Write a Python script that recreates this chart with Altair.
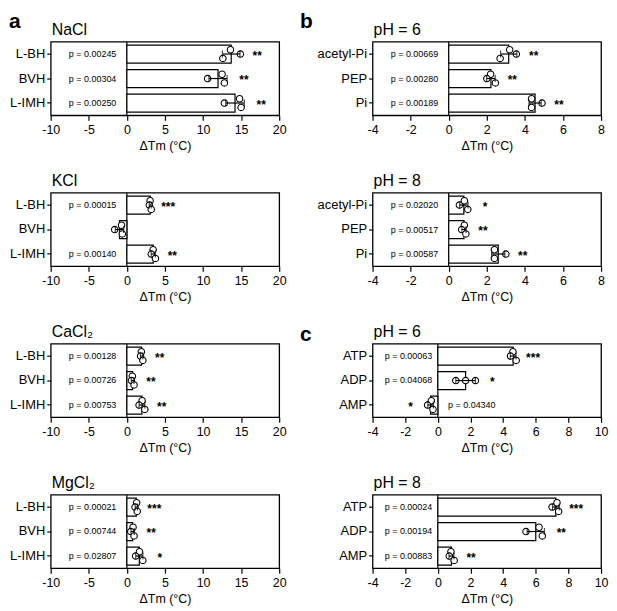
import altair as alt
import pandas as pd
import numpy as np

FONT = "Liberation Sans"

salt_cats = ["L-BH", "BVH", "L-IMH"]
phos_cats = ["acetyl-Pi", "PEP", "Pi"]
nuc_cats = ["ATP", "ADP", "AMP"]

# replicate ΔTm values (°C) per category, in drawing order top / middle / bottom
nacl_vals = [[13.6, 14.9, 12.6], [12.5, 10.6, 12.8], [14.8, 12.8, 15.0]]
kcl_vals = [[3.05, 2.95, 3.2], [-0.7, -1.6, -0.6], [3.45, 3.2, 3.75]]
cacl2_vals = [[1.9, 1.8, 2.1], [0.72, 0.6, 0.94], [2.0, 1.6, 2.35]]
mgcl2_vals = [[1.28, 1.07, 1.36], [0.81, 0.51, 0.94], [1.66, 1.15, 2.09]]
ph6_phos_vals = [[3.2, 3.55, 2.7], [2.2, 2.0, 2.45], [4.35, 4.9, 4.35]]
ph8_phos_vals = [[0.82, 0.56, 1.0], [0.82, 0.68, 0.9], [2.4, 3.0, 2.4]]
ph6_nuc_vals = [[4.6, 4.45, 4.8], [1.1, 1.7, 2.3], [-0.4, -0.63, -0.3]]
ph8_nuc_vals = [[7.3, 7.0, 7.4], [6.2, 5.4, 6.4], [0.8, 0.7, 1.0]]

# jitter lane of each replicate (0 = top, 1 = middle, 2 = bottom)
default_lanes = [[0, 1, 2], [0, 1, 2], [0, 1, 2]]
ph6_nuc_lanes = [[0, 1, 2], [1, 1, 1], [0, 1, 2]]

nacl_p = ["p = 0.00245", "p = 0.00304", "p = 0.00250"]
kcl_p = ["p = 0.00015", "", "p = 0.00140"]
cacl2_p = ["p = 0.00128", "p = 0.00726", "p = 0.00753"]
mgcl2_p = ["p = 0.00021", "p = 0.00744", "p = 0.02807"]
ph6_phos_p = ["p = 0.00669", "p = 0.00280", "p = 0.00189"]
ph8_phos_p = ["p = 0.02020", "p = 0.00517", "p = 0.00587"]
ph6_nuc_p = ["p = 0.00063", "p = 0.04068", "p = 0.04340"]
ph8_nuc_p = ["p = 0.00024", "p = 0.00194", "p = 0.00883"]

nacl_s = ["**", "**", "**"]
kcl_s = ["***", "", "**"]
cacl2_s = ["**", "**", "**"]
mgcl2_s = ["***", "**", "*"]
ph6_phos_s = ["**", "**", "**"]
ph8_phos_s = ["*", "**", "**"]
ph6_nuc_s = ["***", "*", "*"]
ph8_nuc_s = ["***", "**", "**"]

salt_domain = [-10, 20, 5]
phos_domain = [-4, 8, 2]
nuc_domain = [-4, 10, 2]

W, H = 230, 74


def panel(title, cats, vals, pvals, stars, dom, lanes=default_lanes, letter=None, letter_pos=(0, 0)):
    rows = []
    for c, vs, ln in zip(cats, vals, lanes):
        for v, l in zip(vs, ln):
            rows.append({"cat": c, "lane": l, "value": v})
    pts = pd.DataFrame(rows)

    ann = []
    for c, vs, p, s in zip(cats, vals, pvals, stars):
        m = float(np.mean(vs))
        sd = float(np.std(vs, ddof=1))
        neg = m < 0
        if neg:
            sx = min(min(vs), m - sd)
            px = -dom[0] * 0.52
        else:
            sx = max(max(vs), m + sd)
            px = dom[0] * 0.45
        ann.append({"cat": c, "p": p, "star": s, "sx": sx, "px": px, "neg": neg})
    ann = pd.DataFrame(ann)

    xscale = alt.Scale(domain=[dom[0], dom[1]], nice=False, zero=False)
    xaxis = alt.Axis(
        values=list(range(dom[0], dom[1] + 1, dom[2])),
        labelExpr="'' + datum.value",
        grid=False, domain=False, tickSize=5, tickWidth=1.2, tickColor="black",
        labelFont=FONT, labelFontSize=12.5, labelColor="black", labelPadding=3,
        labelFlush=False,
        title="ΔTm (°C)", titleFont=FONT, titleFontSize=12.5, titleFontWeight="normal",
        titleColor="black", titlePadding=4,
    )
    yscale = alt.Scale(domain=cats, paddingInner=0.28, paddingOuter=0.14)
    yaxis = alt.Axis(
        title=None, grid=False, domain=False, tickSize=4, tickWidth=1.2, tickColor="black",
        labelFont=FONT, labelFontSize=13, labelColor="black", labelPadding=2,
    )

    def X(f):
        return alt.X(f, scale=xscale, axis=xaxis)

    Y = alt.Y("cat:N", scale=yscale, axis=yaxis)

    base = alt.Chart(pts)
    zero = alt.Chart(pd.DataFrame({"z": [0]})).mark_rule(color="black", strokeWidth=1.2).encode(x=X("z:Q"))
    bars = base.mark_bar(fill="white", stroke="black", strokeWidth=1.2).encode(x=X("mean(value):Q"), y=Y)
    points = base.mark_circle(fill="white", stroke="black", strokeWidth=1.1, size=42, opacity=1).encode(
        x=X("value:Q"), y=Y,
        yOffset=alt.YOffset("lane:Q", scale=alt.Scale(domain=[0, 2], range=[4.6, 13.3])),
    )
    err = base.mark_errorbar(extent="stdev", ticks=True, size=7, thickness=1.2, color="black").encode(
        x=X("value:Q"), y=Y
    )
    ptxt = alt.Chart(ann).mark_text(font=FONT, fontSize=9, color="black", baseline="middle").encode(
        x=X("px:Q"), y=Y, text="p:N"
    )
    spos = alt.Chart(ann).transform_filter("!datum.neg").mark_text(
        font=FONT, fontSize=12, fontWeight="bold", color="black", baseline="middle", dx=17, dy=2
    ).encode(x=X("sx:Q"), y=Y, text="star:N")
    sneg = alt.Chart(ann).transform_filter("datum.neg").mark_text(
        font=FONT, fontSize=12, fontWeight="bold", color="black", baseline="middle", dx=-17, dy=2
    ).encode(x=X("sx:Q"), y=Y, text="star:N")

    ttl = alt.Chart(pd.DataFrame({"t": [title]})).mark_text(
        font=FONT, fontSize=16, color="black", align="left", baseline="alphabetic"
    ).encode(text="t:N", x=alt.value(1), y=alt.value(-7))

    layers = [zero, bars, points, err, ptxt, spos, sneg, ttl]
    if letter:
        lt = alt.Chart(pd.DataFrame({"t": [letter]})).mark_text(
            font=FONT, fontSize=21, fontWeight="bold", color="black", align="left", baseline="alphabetic"
        ).encode(text="t:N", x=alt.value(letter_pos[0]), y=alt.value(letter_pos[1]))
        layers.append(lt)

    return alt.layer(*layers).properties(width=W, height=H)


panels = [
    panel("NaCl", salt_cats, nacl_vals, nacl_p, nacl_s, salt_domain, letter="a", letter_pos=(-42, -14)),
    panel("pH = 6", phos_cats, ph6_phos_vals, ph6_phos_p, ph6_phos_s, phos_domain, letter="b", letter_pos=(-73, -14)),
    panel("KCl", salt_cats, kcl_vals, kcl_p, kcl_s, salt_domain),
    panel("pH = 8", phos_cats, ph8_phos_vals, ph8_phos_p, ph8_phos_s, phos_domain),
    panel("CaCl₂", salt_cats, cacl2_vals, cacl2_p, cacl2_s, salt_domain),
    panel("pH = 6", nuc_cats, ph6_nuc_vals, ph6_nuc_p, ph6_nuc_s, nuc_domain, lanes=ph6_nuc_lanes,
          letter="c", letter_pos=(-73, -3)),
    panel("MgCl₂", salt_cats, mgcl2_vals, mgcl2_p, mgcl2_s, salt_domain),
    panel("pH = 8", nuc_cats, ph8_nuc_vals, ph8_nuc_p, ph8_nuc_s, nuc_domain),
]

chart = alt.concat(*panels, columns=2, spacing={"row": 19, "column": 12}).properties(padding=0).configure(
    font=FONT, view=alt.ViewConfig(stroke="black", strokeWidth=1.3)
)

chart.save("out.html", embed_options={"renderer": "svg", "actions": False})
